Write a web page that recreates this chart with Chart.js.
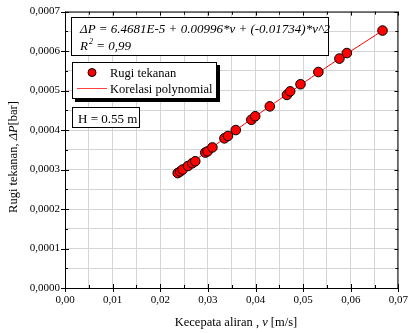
<!DOCTYPE html>
<html>
<head>
<meta charset="utf-8">
<script src="https://cdn.jsdelivr.net/npm/chart.js@4"></script>
<style>
  html, body { margin: 0; padding: 0; background: #fff; }
  #wrap { width: 414px; height: 333px; }
</style>
</head>
<body>
<div id="wrap"><canvas id="chart" width="414" height="333"></canvas></div>
<script>
// kecepatan aliran v [m/s] dan rugi tekanan dP [bar]
const velocity = [0.02367, 0.02418, 0.02469, 0.02582, 0.02673, 0.02735, 0.02945, 0.02993,
    0.03095, 0.03347, 0.03422, 0.03586, 0.03912, 0.03994, 0.04300, 0.04660, 0.04728,
    0.04945, 0.05320, 0.05762, 0.05918, 0.06667];
const pressureLoss = [0.000291, 0.000295, 0.000300, 0.000309, 0.000316, 0.000321, 0.000343, 0.000346,
    0.000356, 0.000379, 0.000385, 0.000400, 0.000426, 0.000435, 0.000460, 0.000489, 0.000498,
    0.000516, 0.000547, 0.000581, 0.000595, 0.000652];

// garis korelasi polynomial (titik)
const fitVelocity = [0.0237, 0.0350, 0.0450, 0.0560, 0.0667];
const fitPressure = [0.000291, 0.000392, 0.000477, 0.000568, 0.000652];

const xTicks = [0, 0.01, 0.02, 0.03, 0.04, 0.05, 0.06, 0.07];
const yTicks = [0, 0.0001, 0.0002, 0.0003, 0.0004, 0.0005, 0.0006, 0.0007];

const equationText = "ΔP = 6.4681E-5 + 0.00996*v + (-0.01734)*v^2";
const heightText = "H = 0.55 m";
const seriesNames = ["Rugi tekanan", "Korelasi polynomial"];

const serif = "'Liberation Serif', 'DejaVu Serif', serif";

function isMajor(v, step) {
    return Math.abs(v / step - Math.round(v / step)) < 1e-6;
}

// teks, kotak, dan tanda sumbu digambar sendiri
const extras = {
    id: "extras",
    afterDraw(chart) {
        const ctx = chart.ctx;
        const a = chart.chartArea;
        const xs = chart.scales.x;
        const ys = chart.scales.y;
        ctx.save();

        // bingkai
        ctx.strokeStyle = "#000";
        ctx.lineWidth = 1;
        ctx.strokeRect(a.left + 0.5, a.top + 0.5, a.right - a.left - 1, a.bottom - a.top);

        // tanda sumbu
        ctx.beginPath();
        for (let i = 0; i <= 14; i++) {
            const v = i * 0.005;
            const px = Math.round(xs.getPixelForValue(v)) + 0.5;
            if (i % 2 === 0) {
                ctx.moveTo(px, a.bottom - 4); ctx.lineTo(px, a.bottom + 4);
                ctx.moveTo(px, a.top); ctx.lineTo(px, a.top + 4);
            } else {
                ctx.moveTo(px, a.bottom - 3); ctx.lineTo(px, a.bottom);
                ctx.moveTo(px, a.top); ctx.lineTo(px, a.top + 3);
            }
        }
        for (let i = 0; i <= 14; i++) {
            const v = i * 0.00005;
            const py = Math.round(ys.getPixelForValue(v)) + 0.5;
            if (i % 2 === 0) {
                ctx.moveTo(a.left - 4, py); ctx.lineTo(a.left + 4, py);
                ctx.moveTo(a.right - 4, py); ctx.lineTo(a.right, py);
            } else {
                ctx.moveTo(a.left, py); ctx.lineTo(a.left + 3, py);
                ctx.moveTo(a.right - 3, py); ctx.lineTo(a.right, py);
            }
        }
        ctx.stroke();

        // kotak persamaan
        ctx.fillStyle = "#fff";
        ctx.fillRect(71, 17, 258, 39);
        ctx.strokeRect(71.5, 17.5, 257, 38);
        ctx.fillStyle = "#000";
        ctx.textBaseline = "alphabetic";
        ctx.textAlign = "left";
        ctx.font = "italic 13px " + serif;
        ctx.fillText(equationText, 80, 33);
        ctx.fillText("R", 80, 50);
        const rw = ctx.measureText("R").width;
        ctx.font = "italic 8px " + serif;
        ctx.fillText("2", 80 + rw + 1, 44);
        ctx.font = "italic 13px " + serif;
        ctx.fillText(" = 0,99", 80 + rw + 5, 50);

        // legenda dengan bayangan
        ctx.fillStyle = "#000";
        ctx.fillRect(75, 65, 145, 37);
        ctx.fillStyle = "#fff";
        ctx.fillRect(72, 62, 145, 37);
        ctx.strokeRect(72.5, 62.5, 144, 36);
        ctx.beginPath();
        ctx.arc(92, 72.5, 4, 0, Math.PI * 2);
        ctx.fillStyle = "#ff0000";
        ctx.fill();
        ctx.strokeStyle = "#000";
        ctx.stroke();
        ctx.beginPath();
        ctx.strokeStyle = "#ff4040";
        ctx.moveTo(77, 88.5); ctx.lineTo(107, 88.5);
        ctx.stroke();
        ctx.fillStyle = "#000";
        ctx.font = "12.5px " + serif;
        ctx.fillText(seriesNames[0], 110, 77);
        ctx.fillText(seriesNames[1], 110, 93);

        // kotak H
        ctx.strokeStyle = "#000";
        ctx.fillStyle = "#fff";
        ctx.fillRect(72, 107, 68, 21);
        ctx.strokeRect(72.5, 107.5, 67, 20);
        ctx.fillStyle = "#000";
        ctx.font = "13px " + serif;
        ctx.fillText(heightText, 78, 122.5);

        // judul sumbu x
        const p1 = "Kecepata aliran , ", p2 = "v", p3 = " [m/s]";
        ctx.font = "12.5px " + serif;
        const w1 = ctx.measureText(p1).width, w3 = ctx.measureText(p3).width;
        ctx.font = "italic 12.5px " + serif;
        const w2 = ctx.measureText(p2).width;
        let x0 = 236 - (w1 + w2 + w3) / 2;
        const yb = 326;
        ctx.font = "12.5px " + serif;
        ctx.fillText(p1, x0, yb);
        ctx.font = "italic 12.5px " + serif;
        ctx.fillText(p2, x0 + w1, yb);
        ctx.font = "12.5px " + serif;
        ctx.fillText(p3, x0 + w1 + w2, yb);

        // judul sumbu y
        ctx.translate(17, 157);
        ctx.rotate(-Math.PI / 2);
        const q1 = "Rugi tekanan, ", q2 = "ΔP", q3 = "[bar]";
        ctx.font = "12.5px " + serif;
        const u1 = ctx.measureText(q1).width, u3 = ctx.measureText(q3).width;
        ctx.font = "italic 12.5px " + serif;
        const u2 = ctx.measureText(q2).width;
        let s0 = -(u1 + u2 + u3) / 2;
        ctx.font = "12.5px " + serif;
        ctx.fillText(q1, s0, 0);
        ctx.font = "italic 12.5px " + serif;
        ctx.fillText(q2, s0 + u1, 0);
        ctx.font = "12.5px " + serif;
        ctx.fillText(q3, s0 + u1 + u2, 0);

        ctx.restore();
    }
};

const ctx = document.getElementById("chart").getContext("2d");
new Chart(ctx, {
    type: "scatter",
    data: {
        datasets: [{
            label: seriesNames[0],
            data: velocity.map((v, i) => ({x: v, y: pressureLoss[i]})),
            backgroundColor: "#ff0000",
            borderColor: "#000",
            borderWidth: 1,
            pointRadius: 4.8,
            order: 1
        }, {
            label: seriesNames[1],
            type: "line",
            data: fitVelocity.map((v, i) => ({x: v, y: fitPressure[i]})),
            borderColor: "#ff0000",
            borderWidth: 1,
            pointRadius: 0,
            fill: false,
            tension: 0.4,
            order: 2
        }]
    },
    options: {
        responsive: false,
        animation: false,
        layout: { padding: { top: 10, right: 6, left: 0, bottom: 0 } },
        plugins: { legend: { display: false }, tooltip: { enabled: false } },
        scales: {
            x: {
                type: "linear",
                min: 0, max: 0.07,
                afterFit: s => { s.height = 45; },
                afterBuildTicks: s => {
                    s.ticks = [];
                    for (let i = 0; i <= 14; i++) s.ticks.push({value: i * 0.005});
                },
                grid: { color: "#d4d4d4", drawTicks: false, lineWidth: 1 },
                border: { display: false },
                ticks: {
                    padding: 6,
                    color: "#000",
                    maxRotation: 0,
                    autoSkip: false,
                    font: { family: serif, size: 11 },
                    callback: v => isMajor(v, 0.01) && xTicks.some(t => Math.abs(t - v) < 1e-9) ? v.toFixed(2).replace(".", ",") : ""
                }
            },
            y: {
                type: "linear",
                min: 0, max: 0.0007,
                afterFit: s => { s.width = 65; },
                afterBuildTicks: s => {
                    s.ticks = [];
                    for (let i = 0; i <= 14; i++) s.ticks.push({value: i * 0.00005});
                },
                grid: { color: "#d4d4d4", drawTicks: false, lineWidth: 1 },
                border: { display: false },
                ticks: {
                    padding: 5,
                    color: "#000",
                    autoSkip: false,
                    font: { family: serif, size: 11 },
                    callback: v => isMajor(v, 0.0001) && yTicks.some(t => Math.abs(t - v) < 1e-12) ? v.toFixed(4).replace(".", ",") : ""
                }
            }
        }
    },
    plugins: [extras]
});
</script>
</body>
</html>
